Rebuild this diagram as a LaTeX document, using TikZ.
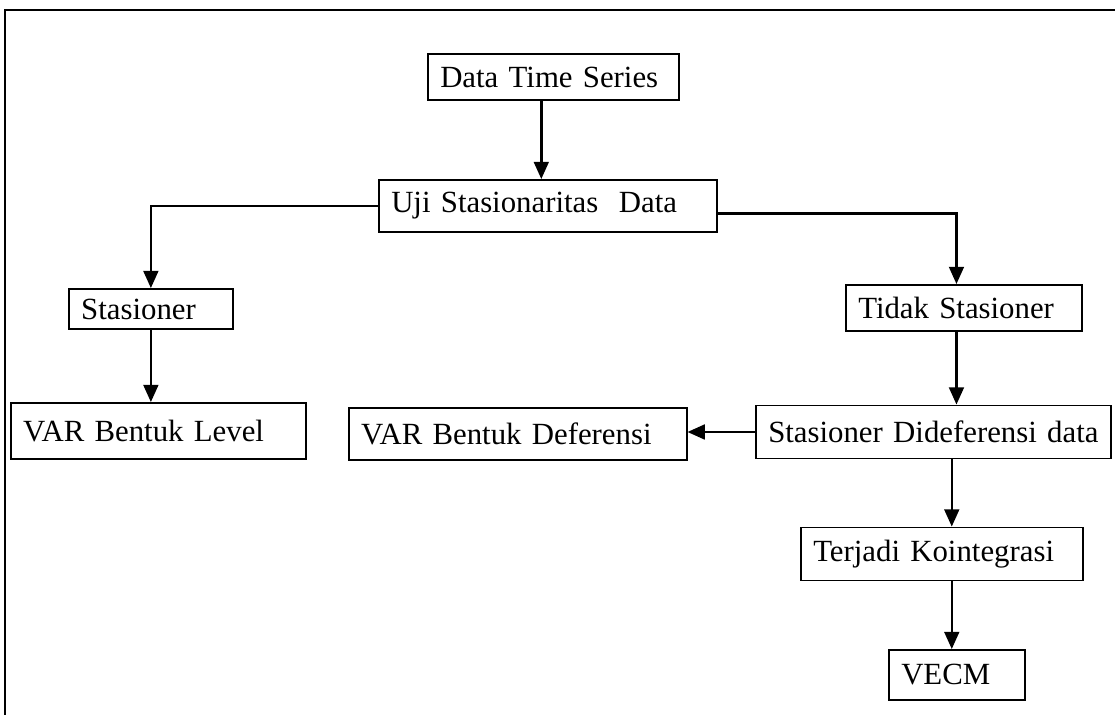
\documentclass[tikz,border=0pt]{standalone}
\usepackage{fontspec}
\setmainfont{Liberation Serif}
\usetikzlibrary{arrows.meta}
\begin{document}
\begin{tikzpicture}[x=0.4057pt, y=-0.4057pt,
box/.style={draw, line width=0.75pt, anchor=west, align=left, inner xsep=5pt,
  font=\fontsize{12.5}{14}\selectfont},
arr/.style={line width=1pt, -{Triangle[width=6pt,length=7pt]}}]
\useasboundingbox (0,0) rectangle (1115,715);
\draw[line width=0.75pt] (5,715) -- (5,10) -- (1115,10);
%
\node[box, text width=92pt,    minimum height=18.7pt] (dts)   at (427,77)  {Data Time Series};
\node[box, text width=127pt,   minimum height=21.1pt] (uji)   at (378,206) {Uji Stasionaritas\ \ Data};
\node[box, text width=56.5pt,  minimum height=16.2pt] (sta)   at (68,309)  {Stasioner};
\node[box, text width=109.7pt, minimum height=22.7pt] (varl)  at (10,431)  {VAR Bentuk Level};
\node[box, text width=85.7pt,  minimum height=18.7pt] (tidak) at (845,308) {Tidak Stasioner};
\node[box, text width=134pt,   minimum height=21.5pt] (sdd)   at (755,432) {Stasioner Dideferensi data};
\node[box, text width=127pt,   minimum height=21.1pt] (vard)  at (348,434) {VAR Bentuk Deferensi};
\node[box, text width=104.4pt, minimum height=21.5pt] (tk)    at (800,554) {Terjadi Kointegrasi};
\node[box, text width=45.2pt,  minimum height=20.3pt] (vecm)  at (888,675) {VECM};
%
\draw[arr] ([xshift=-5pt]dts.south) -- ([xshift=-5pt]dts.south |- uji.north);
\draw[arr] (uji.west) -| (sta.north);
\draw[arr] ([yshift=-3pt]uji.east) -| ([xshift=-3pt]tidak.north);
\draw[arr] (sta.south) -- (sta.south |- varl.north);
\draw[arr] ([xshift=-3pt]tidak.south) -- ([xshift=-3pt]tidak.south |- sdd.north);
\draw[arr] (sdd.west) -- (sdd.west -| vard.east);
\draw[arr] ([xshift=4pt]tk.north |- sdd.south) -- ([xshift=4pt]tk.north);
\draw[arr] ([xshift=4pt]tk.south) -- ([xshift=4pt]tk.south |- vecm.north);
\end{tikzpicture}
\end{document}
